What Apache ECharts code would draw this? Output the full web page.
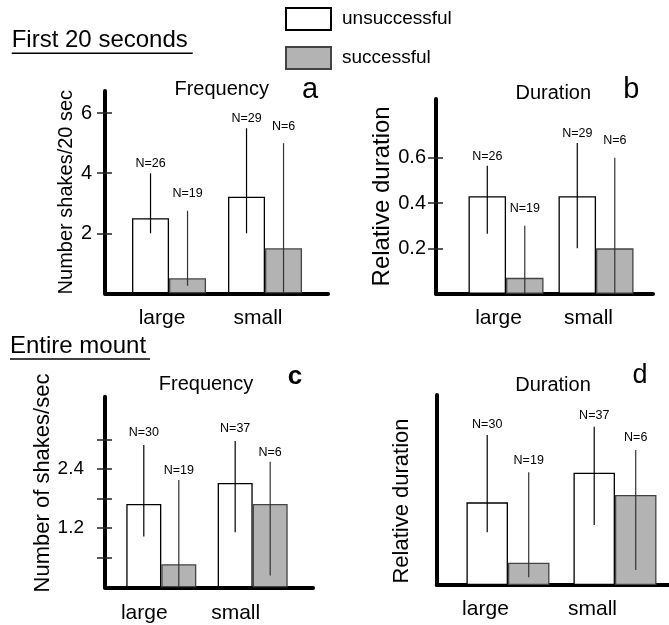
<!DOCTYPE html>
<html>
<head>
<meta charset="utf-8">
<script src="https://cdn.jsdelivr.net/npm/echarts@6/dist/echarts.min.js"></script>
<style>
html,body{margin:0;padding:0;background:#fff;}
#chart{width:669px;height:625px;}
</style>
</head>
<body>
<div id="chart"></div>
<script>
// ---------- DATA ----------
var categories = ['large', 'small'];
var seriesNames = ['unsuccessful', 'successful'];

// Panel a: First 20 seconds, Frequency (shakes/20 sec)
var aUnsucc = [2.5, 3.22];
var aUnsuccLo = [2.0, 2.0];
var aUnsuccHi = [4.0, 5.5];
var aSucc = [0.5, 1.5];
var aSuccLo = [0.25, 0];
var aSuccHi = [2.75, 5.0];
var aUnsuccN = ['N=26', 'N=29'];
var aSuccN = ['N=19', 'N=6'];
var aTicks = [2, 4, 6];

// Panel b: First 20 seconds, Duration (relative)
var bUnsucc = [0.43, 0.43];
var bUnsuccLo = [0.265, 0.2];
var bUnsuccHi = [0.565, 0.665];
var bSucc = [0.07, 0.2];
var bSuccLo = [0, 0];
var bSuccHi = [0.30, 0.60];
var bUnsuccN = ['N=26', 'N=29'];
var bSuccN = ['N=19', 'N=6'];
var bTicks = [0.2, 0.4, 0.6];

// Panel c: Entire mount, Frequency (shakes/sec)
var cUnsucc = [1.69, 2.12];
var cUnsuccLo = [1.03, 1.12];
var cUnsuccHi = [2.89, 2.97];
var cSucc = [0.47, 1.69];
var cSuccLo = [0, 0.24];
var cSuccHi = [2.18, 2.55];
var cUnsuccN = ['N=30', 'N=37'];
var cSuccN = ['N=19', 'N=6'];
var cTicks = [0.6, 1.2, 1.8, 2.4, 3.0];
var cTickLabels = [1.2, 2.4];

// Panel d: Entire mount, Duration (relative, unlabelled axis)
var dUnsucc = [0.435, 0.591];
var dUnsuccLo = [0.277, 0.316];
var dUnsuccHi = [0.789, 0.833];
var dSucc = [0.117, 0.474];
var dSuccLo = [0.041, 0.079];
var dSuccHi = [0.593, 0.711];
var dUnsuccN = ['N=30', 'N=37'];
var dSuccN = ['N=19', 'N=6'];

// ---------- STYLE / LAYOUT ----------
var FONT = 'Liberation Sans, Arial, Helvetica, sans-serif';
var panels = [
  {grid:{left:105, top:91, width:223, height:202.3}, xMin:-0.667, xMax:1.656, yMax:6.74, bw:37,
   u:aUnsucc, uLo:aUnsuccLo, uHi:aUnsuccHi, s:aSucc, sLo:aSuccLo, sHi:aSuccHi, uN:aUnsuccN, sN:aSuccN,
   ticks:aTicks, labels:aTicks, fmt:function(v){return String(Math.round(v));}, labelMargin:13, labelSize:20,
   name:'Number shakes/20 sec', nameSize:20, nameGap:25, namePad:[0,0,0,0], catShift:14, catMargin:14, nOff:[10,17]},
  {grid:{left:436, top:99, width:217, height:194.7}, xMin:-0.778, xMax:1.633, yMax:0.859, bw:37.5,
   u:bUnsucc, uLo:bUnsuccLo, uHi:bUnsuccHi, s:bSucc, sLo:bSuccLo, sHi:bSuccHi, uN:bUnsuccN, sN:bSuccN,
   ticks:bTicks, labels:bTicks, fmt:function(v){return v.toFixed(1);}, labelMargin:10, labelSize:20,
   name:'Relative duration', nameSize:24, nameGap:41, namePad:[0,0,0,0], catShift:15, catMargin:14, nOff:[9,17]},
  {grid:{left:105, top:396.7, width:208, height:190.6}, xMin:-0.616, xMax:1.66, yMax:3.87, bw:35,
   u:cUnsucc, uLo:cUnsuccLo, uHi:cUnsuccHi, s:cSucc, sLo:cSuccLo, sHi:cSuccHi, uN:cUnsuccN, sN:cSuccN,
   ticks:cTicks, labels:cTickLabels, fmt:function(v){return v.toFixed(1);}, labelMargin:21, labelSize:19,
   name:'Number of shakes/sec', nameSize:22, nameGap:51, namePad:[0,0,0,18], catShift:34, catMargin:15, nOff:[12,9]},
  {grid:{left:436.7, top:395, width:232.3, height:190}, xMin:-0.666, xMax:1.505, yMax:1.0, bw:41.5,
   u:dUnsucc, uLo:dUnsuccLo, uHi:dUnsuccHi, s:dSucc, sLo:dSuccLo, sHi:dSuccHi, uN:dUnsuccN, sN:dSuccN,
   ticks:[], labels:[], fmt:function(v){return '';}, labelMargin:10, labelSize:20,
   name:'Relative duration', nameSize:22, nameGap:24, namePad:[0,22,0,0], catShift:45, catMargin:14, nOff:[11,12]}
];

function pairs(vals){ return vals.map(function(v,i){ return [i, v]; }); }
function triples(lo, hi){ return lo.map(function(v,i){ return [i, v, hi[i]]; }); }

function errRenderer(side, labels, color, off, bw){
  return function(params, api){
    var x = api.value(0), lo = api.value(1), hi = api.value(2);
    var p1 = api.coord([x, lo]), p2 = api.coord([x, hi]);
    var px = p1[0] + side * bw / 2;
    return {type:'group', children:[
      {type:'line', shape:{x1:px, y1:p1[1], x2:px, y2:p2[1]}, style:{stroke:color, lineWidth:1.2}},
      {type:'text', style:{text:labels[params.dataIndex], x:px, y:p2[1]-off, align:'center', verticalAlign:'middle',
        fontSize:12.5, fontFamily:FONT, fill:'#000'}}
    ]};
  };
}

var grids = [], xAxes = [], yAxes = [], series = [];
panels.forEach(function(p, gi){
  grids.push(p.grid);
  xAxes.push({
    type:'value', gridIndex:gi, min:p.xMin, max:p.xMax, position:'bottom',
    axisLine:{show:true, onZero:false, lineStyle:{color:'#000', width:4}},
    axisTick:{show:false}, splitLine:{show:false},
    axisLabel:{customValues:[0,1], formatter:function(v){ return categories[Math.round(v)]; },
      fontSize:21, fontFamily:FONT, color:'#000', margin:p.catMargin, padding:[0,p.catShift,0,0]}
  });
  var yIdx = yAxes.length;
  yAxes.push({
    type:'value', gridIndex:gi, min:0, max:p.yMax, position:'left',
    axisLine:{show:true, onZero:false, lineStyle:{color:'#000', width:4}},
    axisTick:{show:false},
    splitLine:{show:false},
    axisLabel:{show:p.labels.length>0, customValues:p.labels, formatter:p.fmt, fontSize:p.labelSize,
      fontFamily:FONT, color:'#000', margin:p.labelMargin},
    name:p.name, nameLocation:'middle', nameGap:p.nameGap,
    nameTextStyle:{fontSize:p.nameSize, fontFamily:FONT, color:'#000', padding:p.namePad}
  });
  // tick marks that cross the axis line (axis shifted 7px inside, ticks 15px outward)
  yAxes.push({
    type:'value', gridIndex:gi, min:0, max:p.yMax, position:'left', offset:-7,
    axisLine:{show:false, onZero:false},
    axisTick:{show:p.ticks.length>0, customValues:p.ticks, length:15, lineStyle:{color:'#222', width:1.5}},
    splitLine:{show:false}, axisLabel:{show:false}
  });
  series.push({
    type:'bar', name:seriesNames[0], xAxisIndex:gi, yAxisIndex:yIdx, barWidth:p.bw, barGap:'0%',
    data:pairs(p.u), itemStyle:{color:'#ffffff', borderColor:'#000', borderWidth:1.3}
  });
  series.push({
    type:'bar', name:seriesNames[1], xAxisIndex:gi, yAxisIndex:yIdx, barWidth:p.bw, barGap:'0%',
    data:pairs(p.s), itemStyle:{color:'#b3b3b3', borderColor:'#444', borderWidth:1.3}
  });
  series.push({
    type:'custom', xAxisIndex:gi, yAxisIndex:yIdx, z:5, clip:false,
    encode:{x:0, y:[1,2]}, data:triples(p.uLo, p.uHi),
    renderItem:errRenderer(-1, p.uN, '#000', p.nOff[0], p.bw)
  });
  series.push({
    type:'custom', xAxisIndex:gi, yAxisIndex:yIdx, z:5, clip:false,
    encode:{x:0, y:[1,2]}, data:triples(p.sLo, p.sHi),
    renderItem:errRenderer(1, p.sN, '#333', p.nOff[1], p.bw)
  });
});

var txt = function(text, x, y, size, align, weight){
  return {type:'text', x:x, y:y, style:{text:text, fontSize:size, fontFamily:FONT, fill:'#000',
    align:align||'center', verticalAlign:'middle', fontWeight:weight||'normal'}};
};

var option = {
  animation:false,
  backgroundColor:'#fff',
  grid:grids, xAxis:xAxes, yAxis:yAxes, series:series,
  legend:{
    data:seriesNames, orient:'vertical', left:285, top:7, padding:0,
    icon:'rect', itemWidth:45, itemHeight:22, itemGap:15,
    textStyle:{fontSize:19, fontFamily:FONT, color:'#000', padding:[0,0,0,6]},
    selectedMode:false
  },
  graphic:[
    txt('First 20 seconds', 11.7, 40, 24, 'left'),
    {type:'line', shape:{x1:11.7, y1:53.3, x2:192.7, y2:53.3}, style:{stroke:'#000', lineWidth:1.5}},
    txt('Entire mount', 10, 346.6, 24, 'left'),
    {type:'line', shape:{x1:10, y1:359, x2:150, y2:359}, style:{stroke:'#000', lineWidth:1.5}},
    txt('Frequency', 221.7, 89, 20),
    txt('a', 310, 90, 29),
    txt('Duration', 553.3, 93, 20),
    txt('b', 631.3, 90, 29),
    txt('Frequency', 206, 384.7, 20),
    txt('c', 295, 377, 26, 'center', 'bold'),
    txt('Duration', 553, 385.5, 20),
    txt('d', 640, 376, 27)
  ]
};

var chart = echarts.init(document.getElementById('chart'), null, {renderer:'canvas'});
chart.setOption(option);
</script>
</body>
</html>
